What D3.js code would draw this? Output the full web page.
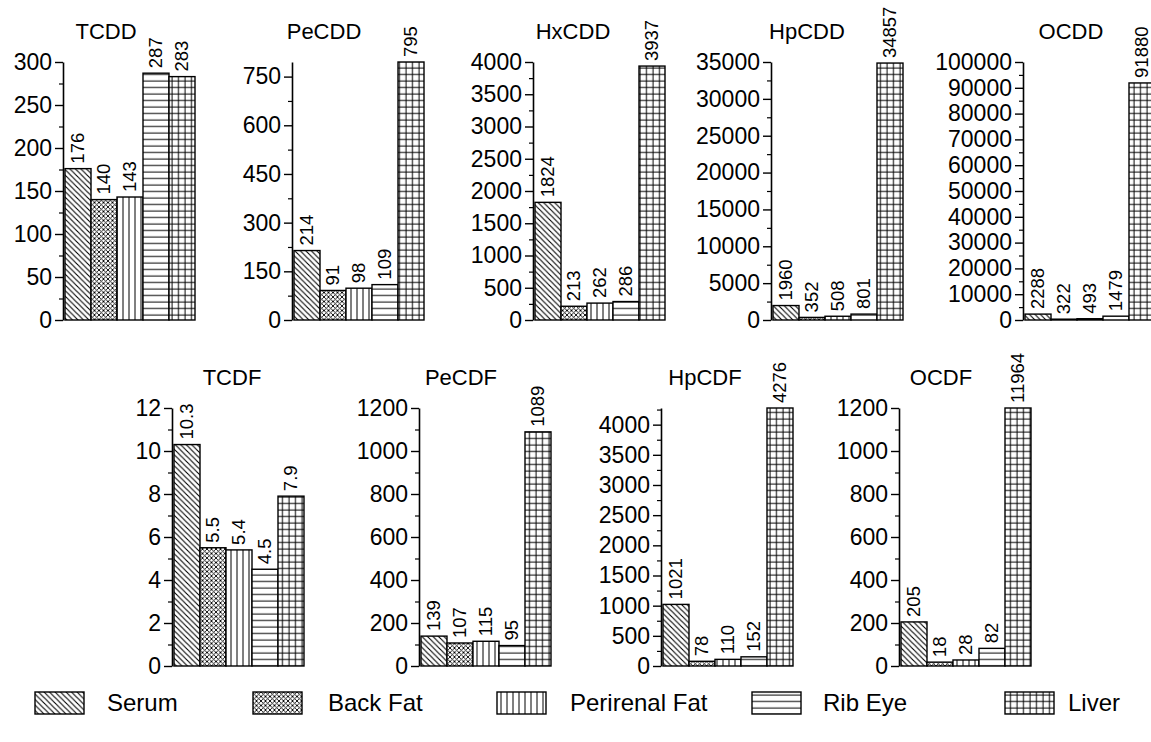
<!DOCTYPE html>
<html>
<head>
<meta charset="utf-8">
<script src="https://cdn.jsdelivr.net/npm/d3@7"></script>
<style>
  body { margin: 0; background: #fff; }
  svg { display: block; }
  text { font-family: "Liberation Sans", Arial, Helvetica, sans-serif; fill: #000; }
</style>
</head>
<body>
<div id="chart"></div>
<script>
// congener names, one panel each
const congeners = ["TCDD", "PeCDD", "HxCDD", "HpCDD", "OCDD", "TCDF", "PeCDF", "HpCDF", "OCDF"];
const tissues = ["Serum", "Back Fat", "Perirenal Fat", "Rib Eye", "Liver"];

// values per tissue, in congener order
const serum     = [176, 214, 1824, 1960, 2288, 10.3, 139, 1021, 205];
const backFat   = [140, 91, 213, 352, 322, 5.5, 107, 78, 18];
const perirenal = [143, 98, 262, 508, 493, 5.4, 115, 110, 28];
const ribEye    = [287, 109, 286, 801, 1479, 4.5, 95, 152, 82];
const liver     = [283, 795, 3937, 34857, 91880, 7.9, 1089, 4276, 11964];

// y axis top value and major tick step per panel
const axisMax  = [300, 795, 4000, 35000, 100000, 12, 1200, 4276, 1200];
const tickStep = [50, 150, 500, 5000, 10000, 2, 200, 500, 200];

const series = [serum, backFat, perirenal, ribEye, liver];
const patternIds = ["p-serum", "p-back", "p-peri", "p-rib", "p-liver"];

// panel layout (axis x, top y, zero y, title offset)
const layout = [
  {x: 63,   top: 62,  base: 320, tdx: 43},
  {x: 292,  top: 62,  base: 320, tdx: 32},
  {x: 533,  top: 62,  base: 320, tdx: 40},
  {x: 771,  top: 62,  base: 320, tdx: 36},
  {x: 1023, top: 62,  base: 320, tdx: 48},
  {x: 172,  top: 408, base: 666, tdx: 60},
  {x: 419,  top: 408, base: 666, tdx: 42},
  {x: 661,  top: 408, base: 666, tdx: 44},
  {x: 899,  top: 408, base: 666, tdx: 42}
];

const W = 1151, H = 742;
const svg = d3.select("#chart").append("svg")
  .attr("width", W).attr("height", H);

// hatch patterns
const defs = svg.append("defs");
function pattern(id, w, h, lines) {
  const p = defs.append("pattern").attr("id", id)
    .attr("patternUnits", "userSpaceOnUse")
    .attr("width", w).attr("height", h);
  p.append("rect").attr("width", w).attr("height", h).attr("fill", "#fff");
  lines.forEach(l => p.append("line")
    .attr("x1", l[0]).attr("y1", l[1]).attr("x2", l[2]).attr("y2", l[3])
    .attr("stroke", "#000").attr("stroke-width", l[4] || 1));
}
pattern("p-serum", 5.5, 5.5, [[0, 0, 5.5, 5.5, 1.1], [-1, 4.5, 1, 6.5, 1.1], [4.5, -1, 6.5, 1, 1.1]]);
pattern("p-back", 4.5, 4.5, [[0, 0, 4.5, 4.5, 0.9], [0, 4.5, 4.5, 0, 0.9]]);
pattern("p-peri", 6, 6, [[3, 0, 3, 6, 1]]);
pattern("p-rib", 6, 6.5, [[0, 3, 6, 3, 1]]);
pattern("p-liver", 6.5, 6.5, [[3, 0, 3, 6.5, 1], [0, 3, 6.5, 3, 1]]);

congeners.forEach(function (name, i) {
  const L = layout[i];
  const g = svg.append("g");

  const y = d3.scaleLinear().domain([0, axisMax[i]]).range([L.base, L.top]);
  const x = d3.scaleBand().domain(tissues).range([L.x + 2, L.x + 132]).padding(0);

  const majors = d3.range(0, axisMax[i] + 1e-9, tickStep[i]);
  const minors = d3.range(tickStep[i] / 2, axisMax[i] + 1e-9, tickStep[i])
    .filter(v => majors.indexOf(v) === -1);

  // minor ticks
  g.append("g")
    .attr("transform", "translate(" + L.x + ",0)")
    .call(d3.axisLeft(y).tickValues(minors).tickSize(4).tickFormat(""))
    .call(a => a.select(".domain").remove())
    .selectAll("line").attr("stroke-width", 1.2);

  // major ticks and the axis line
  const ax = g.append("g")
    .attr("transform", "translate(" + L.x + ",0)")
    .call(d3.axisLeft(y).tickValues(majors).tickSize(8).tickSizeOuter(0)
      .tickPadding(3).tickFormat(d3.format("d")));
  ax.select(".domain").attr("stroke-width", 1.6);
  ax.selectAll("line").attr("stroke-width", 1.4);
  ax.selectAll("text").attr("font-size", 23)
    .style("font-family", "'Liberation Sans', Arial, sans-serif");

  // bars
  const rows = tissues.map((t, k) => ({tissue: t, value: series[k][i], pat: patternIds[k]}));
  g.selectAll("rect.bar").data(rows).enter().append("rect")
    .attr("class", "bar")
    .attr("x", d => x(d.tissue))
    .attr("width", x.bandwidth())
    .attr("y", d => y(Math.min(d.value, axisMax[i])))
    .attr("height", d => y(0) - y(Math.min(d.value, axisMax[i])))
    .attr("fill", d => "url(#" + d.pat + ")")
    .attr("stroke", "#000").attr("stroke-width", 1.4);

  // value labels, rotated
  g.selectAll("text.val").data(rows).enter().append("text")
    .attr("class", "val")
    .attr("transform", d => "translate(" + (x(d.tissue) + x.bandwidth() / 2) + "," +
      (y(Math.min(d.value, axisMax[i])) - 5) + ") rotate(-90)")
    .attr("dy", "0.35em")
    .attr("font-size", 18.5)
    .text(d => String(d.value));

  // panel title
  g.append("text")
    .attr("x", L.x + L.tdx).attr("y", L.top - 23)
    .attr("text-anchor", "middle")
    .attr("font-size", 22)
    .text(name);
});

// legend
const legendX = [35, 253, 497, 752, 1005];
const legendTextX = [107, 328, 570, 823, 1068];
const leg = svg.append("g").attr("transform", "translate(0,692)");
tissues.forEach(function (t, k) {
  leg.append("rect")
    .attr("x", legendX[k]).attr("y", 0)
    .attr("width", 49).attr("height", 22)
    .attr("fill", "url(#" + patternIds[k] + ")")
    .attr("stroke", "#000").attr("stroke-width", 1.4);
  leg.append("text")
    .attr("x", legendTextX[k]).attr("y", 19)
    .attr("font-size", 24)
    .text(t);
});
</script>
</body>
</html>
